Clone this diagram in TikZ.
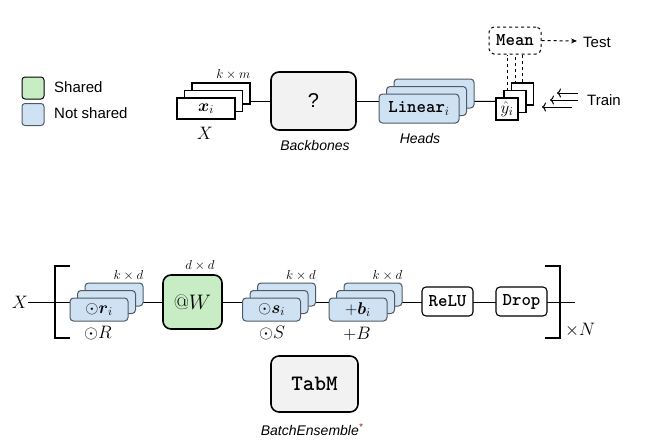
\RequirePackage{fix-cm}
\documentclass[tikz,border=0pt]{standalone}
\usepackage{amsmath}
\usepackage{fontspec}
\newfontfamily\lsans{Liberation Sans}
\usetikzlibrary{backgrounds,arrows.meta}
\definecolor{sharedgreen}{HTML}{C8EDC4}
\definecolor{nsblue}{HTML}{CFE2F3}
\definecolor{nsborder}{HTML}{4F5A66}
\definecolor{bbgray}{HTML}{F2F2F2}
\definecolor{astred}{HTML}{A01818}
\tikzset{
  plainbox/.style={draw, fill=white, line width=1.1pt, inner sep=0pt},
  nsbox/.style={draw=nsborder, fill=nsblue, rounded corners=3.5pt, line width=1pt, inner sep=0pt},
  bigbox/.style={draw, line width=1.6pt, rounded corners=8pt, inner sep=0pt},
  opbox/.style={draw, fill=white, rounded corners=4pt, line width=1.1pt, inner sep=0pt, minimum width=51pt, minimum height=29pt, font=\ttfamily\bfseries\fontsize{18}{18}\selectfont},
  conn/.style={line width=1pt},
  brk/.style={line width=1.3pt},
  lbl/.style={inner sep=0pt, font=\fontsize{13}{13}\selectfont},
  mathtxt/.style={inner sep=0pt, font=\fontsize{18}{18}\selectfont},
  boxmath/.style={font=\fontsize{17}{17}\selectfont},
  sanstxt/.style={inner sep=0pt, font=\lsans\fontsize{15}{15}\selectfont},
  captxt/.style={inner sep=0pt, font=\lsans\itshape\fontsize{14}{14}\selectfont},
  ttb/.style={font=\ttfamily\bfseries\fontsize{18}{18}\selectfont},
  stackr/.style={nsbox, minimum width=58pt, minimum height=23pt},
}
\begin{document}
\begin{tikzpicture}[x=1pt,y=-1pt]
\useasboundingbox (0,0) rectangle (648,447);

% ---------- legend ----------
\node[draw, fill=sharedgreen, rounded corners=3pt, minimum size=22pt, line width=1pt, inner sep=0pt] (legs) at (33,88) {};
\node[draw=nsborder, fill=nsblue, rounded corners=3pt, minimum size=22pt, line width=1pt, inner sep=0pt] (legn) at (33,114.5) {};
\node[sanstxt, anchor=west] (legst) at (54,87) {Shared};
\node[sanstxt, anchor=west] (legnt) at (54,113) {Not shared};

% ---------- top row ----------
\node[plainbox, minimum width=58pt, minimum height=21pt] (xb) at (221,93.5) {};
\node[plainbox, minimum width=58pt, minimum height=21pt] (xm) at (213.5,101) {};
\node[plainbox, minimum width=58pt, minimum height=21pt, boxmath] (xf) at (206,108.5) {$\boldsymbol{x}_i$};
\node[lbl, anchor=south east] (xlab) at ([yshift=3pt]xb.north east) {$k\times m$};
\node[mathtxt] (xX) at (205,133) {$X$};

\node[bigbox, fill=bbgray, minimum width=85pt, minimum height=58pt, font=\lsans\fontsize{20}{20}\selectfont] (bb) at (313.5,101) {?};
\node[captxt] (bbcap) at (315,145) {Backbones};

\node[nsbox, minimum width=80pt, minimum height=29pt] (hb) at (434,93.5) {};
\node[nsbox, minimum width=80pt, minimum height=29pt] (hm) at (426.5,101) {};
\node[nsbox, minimum width=80pt, minimum height=29pt, ttb] (hf) at (419,108.5) {Linear$_i$};
\node[captxt] (hcap) at (420,138) {Heads};

\node[plainbox, minimum size=22pt] (yb) at (522.5,94) {};
\node[plainbox, minimum size=22pt] (ym) at (515,101.5) {};
\node[plainbox, minimum size=22pt, font=\fontsize{17}{17}\selectfont] (yf) at (507,109) {$\hat{y}_i$};

\node[draw, dashed, rounded corners=5pt, line width=1pt, minimum width=52pt, minimum height=27pt, inner sep=0pt, ttb] (mean) at (515,40.5) {Mean};
\coordinate (testtip) at (577,41);
\node[sanstxt, anchor=west] (test) at (583,42) {Test};
\draw[conn, dashed, -{Stealth[length=6pt,width=5pt]}] (mean.east) -- (testtip);

\node[sanstxt, anchor=west] (train) at (587,100) {Train};
\coordinate (t1s) at (578,93);  \coordinate (t1e) at (557,93);
\coordinate (t2s) at (578,100); \coordinate (t2e) at (550,100);
\coordinate (t3s) at (572,107); \coordinate (t3e) at (542,107);
\draw[conn, -{To[length=4pt,width=9pt]}] (t1s) -- (t1e);
\draw[conn, -{To[length=4pt,width=9pt]}] (t2s) -- (t2e);
\draw[conn, -{To[length=4pt,width=9pt]}] (t3s) -- (t3e);

% ---------- bottom row ----------
\node[mathtxt] (X2) at (20,302) {$X$};
\coordinate (lend) at (575,302);
\draw[brk] (70,266) -- (55,266) -- (55,338) -- (70,338);
\draw[brk] (545,266) -- (560,266) -- (560,338) -- (545,338);
\node[mathtxt, anchor=west] (timesN) at (565,330) {$\times N$};

\node[stackr] (rb) at (114,294.5) {};
\node[stackr] (rm) at (106.5,302) {};
\node[stackr, boxmath] (rf) at (99,309.5) {$\odot\boldsymbol{r}_i$};
\node[lbl, anchor=south east] (rlab) at ([yshift=2pt]rb.north east) {$k\times d$};
\node[mathtxt] (Rcap) at (98,333) {$\odot R$};

\node[bigbox, fill=sharedgreen, minimum width=59pt, minimum height=54pt, font=\fontsize{21}{21}\selectfont] (W) at (192.5,302) {$@W$};
\node[lbl] (wlab) at (200,266) {$d\times d$};

\node[stackr] (sb) at (286.5,294.5) {};
\node[stackr] (sm) at (279,302) {};
\node[stackr, boxmath] (sf) at (271.5,309.5) {$\odot\boldsymbol{s}_i$};
\node[lbl, anchor=south east] (slab) at ([yshift=2pt]sb.north east) {$k\times d$};
\node[mathtxt] (Scap) at (272,333) {$\odot S$};

\node[stackr] (bbb) at (373,294.5) {};
\node[stackr] (bbm) at (365.5,302) {};
\node[stackr, boxmath] (bbf) at (358,309.5) {$+\boldsymbol{b}_i$};
\node[lbl, anchor=south east] (blab) at ([yshift=2pt]bbb.north east) {$k\times d$};
\node[mathtxt] (Bcap) at (357,334) {$+B$};

\node[opbox] (relu) at (447.5,301.5) {ReLU};
\node[opbox] (drop) at (521.5,301.5) {Drop};

\node[bigbox, fill=bbgray, minimum width=87pt, minimum height=56pt, font=\ttfamily\bfseries\fontsize{22}{22}\selectfont] (tabm) at (314.5,384) {TabM};
\node[captxt] (becap) at (312,430) {BatchEnsemble\textsuperscript{\color{astred}*}};

% ---------- connectors behind ----------
\begin{scope}[on background layer]
\draw[conn] (xm.center) -- (bb.center);
\draw[conn] (bb.center) -- (hm.center);
\draw[conn] (hm.center) -- (ym.center);
\draw[conn, dashed] (yf.center) -- (yf.center |- mean.south);
\draw[conn, dashed] (ym.center) -- (ym.center |- mean.south);
\draw[conn, dashed] (yb.center) -- (yb.center |- mean.south);
\draw[conn] (X2.east) -- (lend);
\end{scope}
\end{tikzpicture}
\end{document}
